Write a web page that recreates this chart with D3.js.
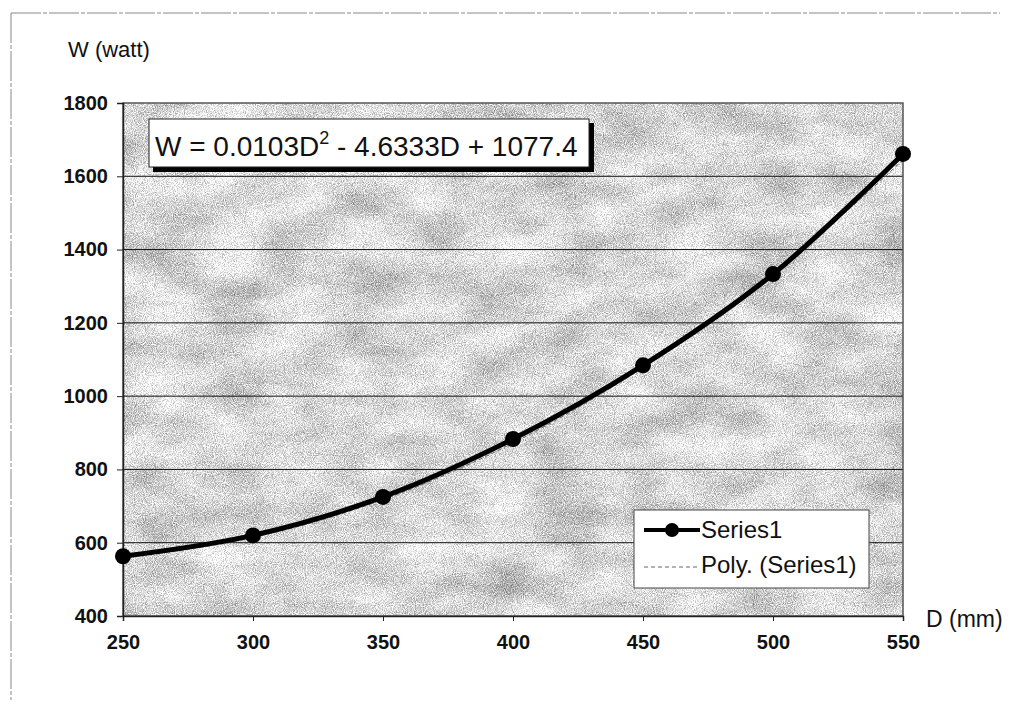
<!DOCTYPE html>
<html>
<head>
<meta charset="utf-8">
<script src="https://cdn.jsdelivr.net/npm/d3@7"></script>
<style>
  body { margin: 0; background: #fff; }
  svg { display: block; font-family: "Liberation Sans", Arial, sans-serif; }
</style>
</head>
<body>
<svg id="chart" width="1010" height="709"></svg>
<script>
// diameter D (mm) vs power W (watt)
const diameters = [250, 300, 350, 400, 450, 500, 550];
const watts = [563, 620, 725, 883, 1084, 1333, 1661];
const xTicks = [250, 300, 350, 400, 450, 500, 550];
const yTicks = [400, 600, 800, 1000, 1200, 1400, 1600, 1800];
// quadratic trendline coefficients: a*D^2 + b*D + c
const trendCoef = [0.0103, -4.6333, 1077.4];
const legendLabels = ["Series1", "Poly. (Series1)"];

const svg = d3.select("#chart");
const plot = { left: 123, right: 903, top: 103, bottom: 616 };

const x = d3.scaleLinear().domain([250, 550]).range([plot.left, plot.right]);
const y = d3.scaleLinear().domain([400, 1800]).range([plot.bottom, plot.top]);

// speckled grey texture for the plot area: fine grain + soft blotches
const defs = svg.append("defs");
const f = defs.append("filter").attr("id", "grain")
    .attr("x", 0).attr("y", 0).attr("width", 1).attr("height", 1)
    .attr("color-interpolation-filters", "sRGB");
const toGrey = "1 0 0 0 0  1 0 0 0 0  1 0 0 0 0  0 0 0 0 1";
f.append("feTurbulence").attr("type", "fractalNoise")
    .attr("baseFrequency", "1.1").attr("numOctaves", 1).attr("seed", 3).attr("result", "fine");
f.append("feColorMatrix").attr("in", "fine").attr("type", "matrix").attr("values", toGrey).attr("result", "fineG");
f.append("feTurbulence").attr("type", "fractalNoise")
    .attr("baseFrequency", "0.015 0.03").attr("numOctaves", 3).attr("seed", 9).attr("result", "coarse");
f.append("feColorMatrix").attr("in", "coarse").attr("type", "matrix").attr("values", toGrey).attr("result", "coarseG");
f.append("feComposite").attr("in", "fineG").attr("in2", "coarseG").attr("operator", "arithmetic")
    .attr("k1", 0).attr("k2", 0.95).attr("k3", 0.4).attr("k4", 0.17);

// outer frame (faint, dashed)
svg.append("path")
    .attr("d", "M11,13 H1000 M11,13 V700")
    .attr("fill", "none").attr("stroke", "#888").attr("stroke-width", 1)
    .attr("stroke-dasharray", "30 2 4 2");

svg.append("rect")
    .attr("x", plot.left).attr("y", plot.top)
    .attr("width", plot.right - plot.left).attr("height", plot.bottom - plot.top)
    .attr("fill", "#ccc").attr("filter", "url(#grain)");

// horizontal gridlines
svg.append("g").selectAll("line").data(yTicks.slice(1, -1)).enter().append("line")
    .attr("x1", plot.left).attr("x2", plot.right)
    .attr("y1", d => y(d)).attr("y2", d => y(d))
    .attr("stroke", "#111").attr("stroke-width", 1);

svg.append("rect")
    .attr("x", plot.left).attr("y", plot.top)
    .attr("width", plot.right - plot.left).attr("height", plot.bottom - plot.top)
    .attr("fill", "none").attr("stroke", "#555").attr("stroke-width", 1.5);

// axes
const yAxis = svg.append("g").attr("transform", `translate(${plot.left},0)`)
    .call(d3.axisLeft(y).tickValues(yTicks).tickSize(6).tickPadding(9).tickFormat(d3.format("d")));
const xAxis = svg.append("g").attr("transform", `translate(0,${plot.bottom})`)
    .call(d3.axisBottom(x).tickValues(xTicks).tickSize(5).tickPadding(14).tickFormat(d3.format("d")));
[yAxis, xAxis].forEach(a => {
    a.select(".domain").attr("stroke", "#222").attr("stroke-width", 1.5);
    a.selectAll(".tick line").attr("stroke", "#222");
    a.selectAll("text").attr("font-size", 20).attr("font-weight", "bold")
        .attr("fill", "#111").attr("font-family", "Liberation Sans, Arial, sans-serif");
});

// axis titles
svg.append("text").attr("x", 68).attr("y", 57).attr("font-size", 22).attr("fill", "#111").text("W (watt)");
svg.append("text").attr("x", 926).attr("y", 627).attr("font-size", 23).attr("fill", "#111").text("D (mm)");

// trendline from the fitted polynomial
const poly = d => trendCoef[0] * d * d + trendCoef[1] * d + trendCoef[2];
const trendPts = d3.range(250, 551, 5).map(d => [d, poly(d)]);
svg.append("path")
    .attr("d", d3.line().x(p => x(p[0])).y(p => y(p[1]))(trendPts))
    .attr("fill", "none").attr("stroke", "#666").attr("stroke-width", 1).attr("stroke-dasharray", "4 3");

// series line, smoothed
const pts = diameters.map((d, i) => [d, watts[i]]);
svg.append("path")
    .attr("d", d3.line().x(p => x(p[0])).y(p => y(p[1])).curve(d3.curveCatmullRom.alpha(0.5))(pts))
    .attr("fill", "none").attr("stroke", "#000").attr("stroke-width", 5);
svg.append("g").selectAll("circle").data(pts).enter().append("circle")
    .attr("cx", p => x(p[0])).attr("cy", p => y(p[1])).attr("r", 8).attr("fill", "#000");

// equation label with shadow
const eq = svg.append("g");
eq.append("rect").attr("x", 153).attr("y", 123).attr("width", 441).attr("height", 49).attr("fill", "#000");
eq.append("rect").attr("x", 149).attr("y", 119).attr("width", 440).attr("height", 48)
    .attr("fill", "#fff").attr("stroke", "#222").attr("stroke-width", 1);
const eqText = eq.append("text").attr("x", 155).attr("y", 156).attr("font-size", 28).attr("fill", "#111");
eqText.append("tspan").text(`W = ${trendCoef[0]}D`);
eqText.append("tspan").attr("dy", -12).attr("font-size", 18).text("2");
eqText.append("tspan").attr("dy", 12).text(` - ${Math.abs(trendCoef[1])}D + ${trendCoef[2]}`);

// legend
const lg = svg.append("g");
lg.append("rect").attr("x", 634).attr("y", 510).attr("width", 235).attr("height", 78)
    .attr("fill", "#fff").attr("stroke", "#444").attr("stroke-width", 1);
lg.append("line").attr("x1", 644).attr("x2", 700).attr("y1", 530).attr("y2", 530)
    .attr("stroke", "#000").attr("stroke-width", 4);
lg.append("circle").attr("cx", 672).attr("cy", 530).attr("r", 7).attr("fill", "#000");
lg.append("line").attr("x1", 644).attr("x2", 700).attr("y1", 567).attr("y2", 567)
    .attr("stroke", "#666").attr("stroke-width", 1).attr("stroke-dasharray", "4 3");
lg.selectAll("text.lbl").data(legendLabels).enter().append("text")
    .attr("class", "lbl").attr("x", 701).attr("y", (d, i) => 538 + i * 35)
    .attr("font-size", 24).attr("fill", "#111").text(d => d);
</script>
</body>
</html>
